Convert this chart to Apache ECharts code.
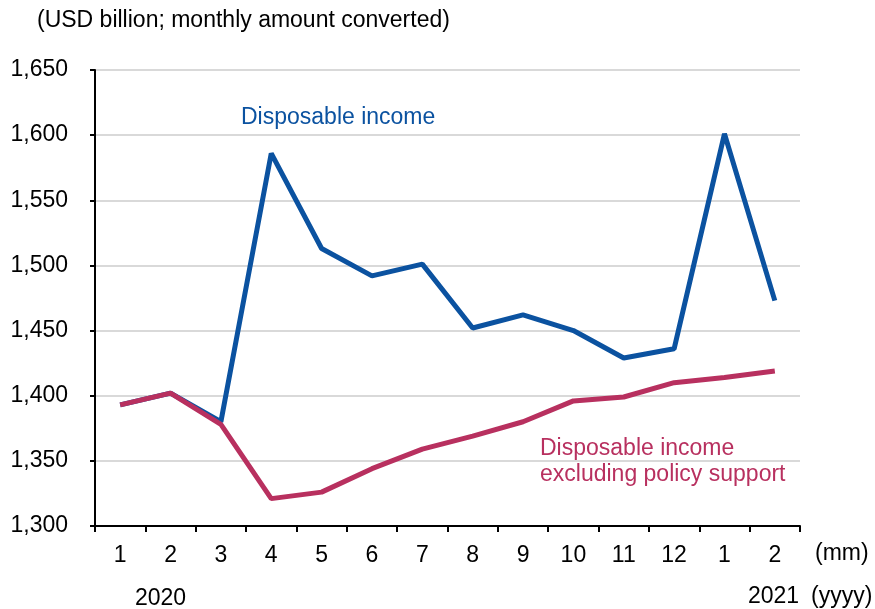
<!DOCTYPE html>
<html>
<head>
<meta charset="utf-8">
<script src="https://cdn.jsdelivr.net/npm/echarts@6/dist/echarts.min.js"></script>
<style>
html,body{margin:0;padding:0;background:#fff;}
#chart{width:875px;height:609px;}
</style>
</head>
<body>
<div id="chart"></div>
<script>
const categories = ['1','2','3','4','5','6','7','8','9','10','11','12','1','2'];
const disposableIncome = [1393, 1402, 1380, 1586, 1513, 1492, 1501, 1452, 1462, 1450, 1429, 1436, 1601, 1473];
const excludingPolicy = [1393, 1402, 1378, 1321, 1326, 1344, 1359, 1369, 1380, 1396, 1399, 1410, 1414, 1419];
const yTicks = { min: 1300, max: 1650, interval: 50 };

const BLUE = '#0b52a0';
const RED = '#b8305f';
const FONT = 'Liberation Sans, Arial, sans-serif';
const FS = 23;

const chart = echarts.init(document.getElementById('chart'), null, {renderer: 'canvas'});
chart.setOption({
  animation: false,
  backgroundColor: '#fff',
  textStyle: { fontFamily: FONT },
  grid: { left: 95, right: 75, top: 70, bottom: 83, containLabel: false },
  xAxis: {
    type: 'category',
    data: categories,
    boundaryGap: true,
    axisLine: { lineStyle: { color: '#000', width: 2 } },
    axisTick: { show: true, length: 6, lineStyle: { color: '#000', width: 2 } },
    axisLabel: { color: '#000', fontSize: FS, margin: 18, fontFamily: FONT },
    splitLine: { show: false }
  },
  yAxis: {
    type: 'value',
    min: yTicks.min, max: yTicks.max, interval: yTicks.interval,
    axisLine: { show: true, lineStyle: { color: '#000', width: 2 } },
    axisTick: { show: true, length: 5, lineStyle: { color: '#000', width: 2 } },
    axisLabel: {
      color: '#000', fontSize: FS, margin: 27, fontFamily: FONT,
      formatter: v => v.toLocaleString('en-US')
    },
    splitLine: { show: true, lineStyle: { color: '#d9d9d9', width: 2 } }
  },
  series: [
    {
      name: 'Disposable income',
      type: 'line',
      data: disposableIncome,
      symbol: 'none',
      lineStyle: { color: BLUE, width: 5 },
      z: 2
    },
    {
      name: 'Disposable income excluding policy support',
      type: 'line',
      data: excludingPolicy,
      symbol: 'none',
      lineStyle: { color: RED, width: 5 },
      z: 3
    }
  ],
  graphic: [
    { type: 'text', left: 37, top: 9, style: { text: '(USD billion; monthly amount converted)', fontSize: FS, fill: '#000', fontFamily: FONT } },
    { type: 'text', left: 241, top: 106, style: { text: 'Disposable income', fontSize: FS, fill: BLUE, fontFamily: FONT } },
    { type: 'text', left: 540, top: 436, style: { text: 'Disposable income\nexcluding policy support', fontSize: FS, lineHeight: 26, fill: RED, fontFamily: FONT } },
    { type: 'text', left: 815, top: 542, style: { text: '(mm)', fontSize: FS, fill: '#000', fontFamily: FONT } },
    { type: 'text', left: 135, top: 587, style: { text: '2020', fontSize: FS, fill: '#000', fontFamily: FONT } },
    { type: 'text', left: 748, top: 585, style: { text: '2021', fontSize: FS, fill: '#000', fontFamily: FONT } },
    { type: 'text', left: 811, top: 585, style: { text: '(yyyy)', fontSize: FS, fill: '#000', fontFamily: FONT } }
  ]
});
</script>
</body>
</html>
